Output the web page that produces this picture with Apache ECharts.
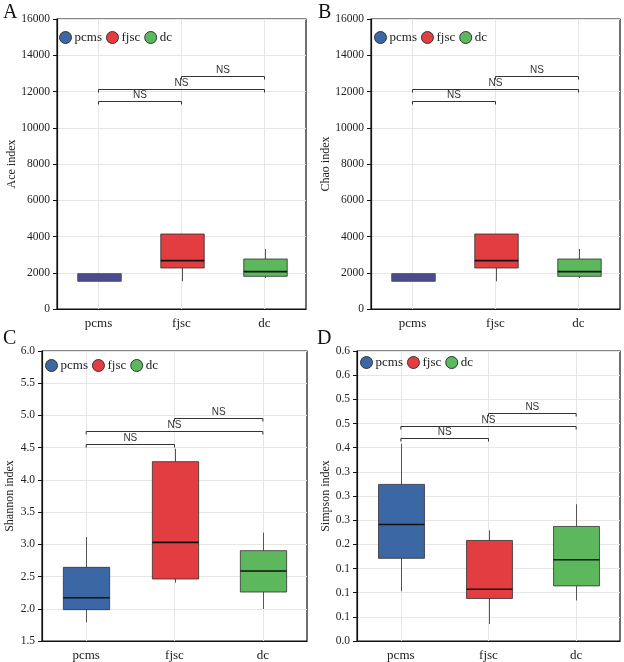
<!DOCTYPE html>
<html>
<head>
    <meta charset="UTF-8"/>
    <title>Alpha diversity boxplots</title>
    <style>
        html, body { margin: 0; padding: 0; background: #fff; }
        #chart { width: 624px; height: 662px; }
    </style>
</head>
<body>
<div id="chart"></div>
<script src="https://cdn.jsdelivr.net/npm/echarts@6/dist/echarts.min.js"></script>
<script>
    // groups and legend colours
    const groups = ['pcms', 'fjsc', 'dc'];
    const groupColors = ['#3b68a5', '#e23d41', '#5db85d'];

    // box stats per group: [min, Q1, median, Q3, max]
    const aceStats = [[1530, 1530, 1740, 1950, 1950], [1530, 2262, 2667, 4138, 4138], [1710, 1802, 2060, 2759, 3310]];
    const chaoStats = [[1530, 1530, 1740, 1950, 1950], [1530, 2262, 2667, 4138, 4138], [1710, 1802, 2060, 2759, 3310]];
    const shannonStats = [[1.79, 1.986, 2.172, 2.643, 3.114], [2.405, 2.462, 3.031, 4.283, 4.484], [1.997, 2.26, 2.586, 2.902, 3.181]];
    const simpsonStats = [[0.103, 0.171, 0.241, 0.324, 0.408], [0.035, 0.088, 0.107, 0.208, 0.229], [0.084, 0.114, 0.168, 0.237, 0.283]];

    // significance brackets: [from, to, height]
    const aceBrackets = [['pcms', 'fjsc', 11460], ['pcms', 'dc', 12120], ['fjsc', 'dc', 12840]];
    const chaoBrackets = [['pcms', 'fjsc', 11460], ['pcms', 'dc', 12120], ['fjsc', 'dc', 12840]];
    const shannonBrackets = [['pcms', 'fjsc', 4.56], ['pcms', 'dc', 4.76], ['fjsc', 'dc', 4.955]];
    const simpsonBrackets = [['pcms', 'fjsc', 0.42], ['pcms', 'dc', 0.4455], ['fjsc', 'dc', 0.472]];

    // simpson axis labels as printed (0.05 steps rounded to one decimal)
    const simpsonTicks = ['0.0', '0.1', '0.1', '0.1', '0.2', '0.3', '0.3', '0.3', '0.4', '0.5', '0.5', '0.6', '0.6'];

    const serif = '"Liberation Serif", "DejaVu Serif", serif';
    const sans = '"Liberation Sans", Arial, sans-serif';

    const panels = [
        {letter: 'A', name: 'Ace index', stats: aceStats, brackets: aceBrackets, min: 0, max: 16000, interval: 2000,
            grid: {left: 57, top: 19, width: 249, height: 290}, nameGap: 38, legend: {left: 59, top: 31}, title: {left: 3, top: 3},
            pcmsFill: '#4b4b8c', fmt: v => String(v)},
        {letter: 'B', name: 'Chao index', stats: chaoStats, brackets: chaoBrackets, min: 0, max: 16000, interval: 2000,
            grid: {left: 371, top: 19, width: 249, height: 290}, nameGap: 39, legend: {left: 374, top: 31}, title: {left: 318, top: 3},
            pcmsFill: '#4b4b8c', fmt: v => String(v)},
        {letter: 'C', name: 'Shannon index', stats: shannonStats, brackets: shannonBrackets, min: 1.5, max: 6, interval: 0.5,
            grid: {left: 42, top: 351, width: 265, height: 290}, nameGap: 26, legend: {left: 45, top: 359}, title: {left: 3, top: 329},
            fmt: v => v.toFixed(1)},
        {letter: 'D', name: 'Simpson index', stats: simpsonStats, brackets: simpsonBrackets, min: 0, max: 0.6, interval: 0.05,
            grid: {left: 357, top: 351, width: 263, height: 290}, nameGap: 24, legend: {left: 360, top: 356}, title: {left: 317, top: 329},
            fmt: v => simpsonTicks[Math.round(v / 0.05)]}
    ];

    function boxRenderer(fill, stroke, medStroke) {
        return function (params, api) {
            const x = api.value(0);
            const lo = api.coord([x, api.value(1)]);
            const q1 = api.coord([x, api.value(2)]);
            const md = api.coord([x, api.value(3)]);
            const q3 = api.coord([x, api.value(4)]);
            const hi = api.coord([x, api.value(5)]);
            const half = api.size([1, 0])[0] * 0.262;
            const cx = Math.round(lo[0]) + 0.5;
            return {
                type: 'group',
                children: [
                    {type: 'line', shape: {x1: cx, y1: hi[1], x2: cx, y2: q3[1]}, style: {stroke: '#555', lineWidth: 1}},
                    {type: 'line', shape: {x1: cx, y1: q1[1], x2: cx, y2: lo[1]}, style: {stroke: '#555', lineWidth: 1}},
                    {type: 'rect', shape: {x: cx - half, y: q3[1], width: half * 2, height: q1[1] - q3[1]},
                        style: {fill: fill, stroke: stroke, lineWidth: 1}},
                    {type: 'line', shape: {x1: cx - half, y1: md[1], x2: cx + half, y2: md[1]},
                        style: {stroke: medStroke, lineWidth: 1.6}}
                ]
            };
        };
    }

    function bracketRenderer(params, api) {
        const a = api.coord([api.value(0), api.value(2)]);
        const b = api.coord([api.value(1), api.value(2)]);
        const y = Math.round(a[1]) + 0.5;
        const drop = 3;
        return {
            type: 'group',
            children: [
                {type: 'polyline', shape: {points: [[a[0], y + drop], [a[0], y], [b[0], y], [b[0], y + drop]]},
                    style: {stroke: '#333', lineWidth: 1, fill: null}},
                {type: 'text', x: (a[0] + b[0]) / 2, y: y - 1,
                    style: {text: 'NS', font: '10px ' + sans, fill: '#333', align: 'center', verticalAlign: 'bottom'}}
            ]
        };
    }

    const grids = [], xAxes = [], yAxes = [], titles = [], legends = [], series = [];

    panels.forEach(function (p, pi) {
        grids.push(Object.assign({show: true, borderColor: '#111', borderWidth: 1.2}, p.grid));
        titles.push({text: p.letter, left: p.title.left, top: p.title.top, padding: 0,
            textStyle: {fontFamily: serif, fontSize: 20, fontWeight: 'normal', color: '#111'}});
        legends.push({data: groups, left: p.legend.left, top: p.legend.top, icon: 'circle', itemWidth: 12, itemHeight: 12,
            itemGap: 4, padding: 0, selectedMode: false,
            itemStyle: {borderColor: '#333', borderWidth: 1},
            textStyle: {fontFamily: serif, fontSize: 13, color: '#222', padding: [0, 0, 0, -2]}});
        xAxes.push({
            type: 'category', gridIndex: pi, data: groups,
            axisLine: {lineStyle: {color: '#111', width: 1.2}},
            axisTick: {alignWithLabel: true, length: 4, lineStyle: {color: '#111'}},
            axisLabel: {fontFamily: serif, fontSize: 13, color: '#222', margin: 8},
            splitLine: {show: true, alignWithLabel: true, lineStyle: {color: '#e6e6e6'}}
        });
        yAxes.push({
            type: 'value', gridIndex: pi, min: p.min, max: p.max, interval: p.interval,
            name: p.name, nameLocation: 'middle', nameGap: p.nameGap,
            nameTextStyle: {fontFamily: serif, fontSize: 12, color: '#222'},
            axisLine: {show: true, lineStyle: {color: '#111', width: 1.2}},
            axisTick: {show: true, length: 4, lineStyle: {color: '#111'}},
            axisLabel: {fontFamily: serif, fontSize: 11.5, color: '#222', margin: 7, formatter: p.fmt},
            splitLine: {show: true, lineStyle: {color: '#e6e6e6'}}
        });
        groups.forEach(function (g, gi) {
            let fill = groupColors[gi], stroke = 'rgba(40,40,40,0.75)', med = '#111';
            if (gi === 0 && p.pcmsFill) {
                fill = p.pcmsFill; stroke = p.pcmsFill; med = p.pcmsFill;
            }
            series.push({
                type: 'custom', name: g, xAxisIndex: pi, yAxisIndex: pi, z: 3,
                itemStyle: {color: groupColors[gi]},
                encode: {x: 0, y: [1, 2, 3, 4, 5]},
                data: [[g].concat(p.stats[gi])],
                renderItem: boxRenderer(fill, stroke, med)
            });
        });
        series.push({
            type: 'custom', name: 'sig', xAxisIndex: pi, yAxisIndex: pi, z: 4, silent: true,
            encode: {x: 0, y: 2},
            data: p.brackets.map(b => [groups.indexOf(b[0]), groups.indexOf(b[1]), b[2]]),
            renderItem: bracketRenderer
        });
    });

    const chart = echarts.init(document.getElementById('chart'), null, {renderer: 'canvas'});
    chart.setOption({
        animation: false,
        backgroundColor: '#fff',
        title: titles,
        legend: legends,
        grid: grids,
        xAxis: xAxes,
        yAxis: yAxes,
        series: series
    });
</script>
</body>
</html>
